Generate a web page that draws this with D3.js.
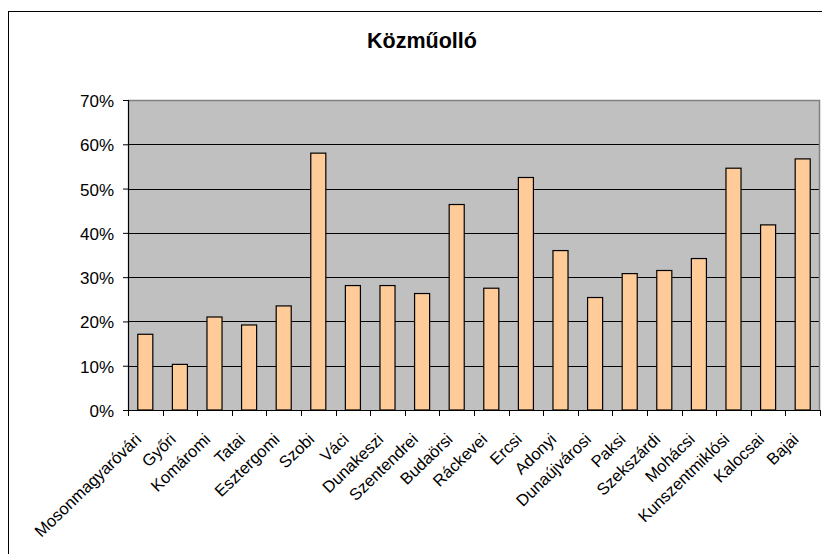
<!DOCTYPE html>
<html>
<head>
<meta charset="utf-8">
<script src="https://cdn.jsdelivr.net/npm/d3@7"></script>
<style>
  html, body { margin: 0; padding: 0; background: #fff; }
  svg { display: block; font-family: "Liberation Sans", Arial, sans-serif; }
</style>
</head>
<body>
<svg id="chart" width="822" height="554"></svg>
<script>
const title = "Közműolló";
const categories = ["Mosonmagyaróvári","Győri","Komáromi","Tatai","Esztergomi","Szobi","Váci","Dunakeszi","Szentendrei","Budaörsi","Ráckevei","Ercsi","Adonyi","Dunaújvárosi","Paksi","Szekszárdi","Mohácsi","Kunszentmiklósi","Kalocsai","Bajai"];
const values = [0.171, 0.103, 0.210, 0.192, 0.235, 0.580, 0.281, 0.281, 0.263, 0.464, 0.275, 0.525, 0.360, 0.254, 0.308, 0.315, 0.342, 0.546, 0.418, 0.567];
const yTicks = [0, 0.1, 0.2, 0.3, 0.4, 0.5, 0.6, 0.7];

const svg = d3.select("#chart");
const plot = { left: 128, right: 820, top: 100, bottom: 410 };

// outer chart border (only left & top fall inside the window)
svg.append("rect")
  .attr("x", 8.5).attr("y", 11.5)
  .attr("width", 900).attr("height", 700)
  .attr("fill", "#fff").attr("stroke", "#000").attr("stroke-width", 1);

// title
svg.append("text")
  .attr("x", 422).attr("y", 48)
  .attr("text-anchor", "middle")
  .attr("font-size", 21.5).attr("font-weight", "bold")
  .attr("fill", "#000")
  .text(title);

const x = d3.scaleBand().domain(categories).range([plot.left, plot.right]).padding(0);
const y = d3.scaleLinear().domain([0, 0.7]).range([plot.bottom, plot.top]);

// plot area background
svg.append("rect")
  .attr("x", plot.left).attr("y", plot.top)
  .attr("width", plot.right - plot.left).attr("height", plot.bottom - plot.top)
  .attr("fill", "#C0C0C0");

// gridlines
svg.append("g").selectAll("line")
  .data(yTicks.filter(t => t > 0 && t < 0.7))
  .join("line")
  .attr("x1", plot.left).attr("x2", plot.right)
  .attr("y1", d => Math.round(y(d)) + 0.5).attr("y2", d => Math.round(y(d)) + 0.5)
  .attr("stroke", "#000").attr("stroke-width", 1);

// plot border top & right (gray)
svg.append("path")
  .attr("d", `M${plot.left},${plot.top + 0.5}H${plot.right - 0.5}V${plot.bottom}`)
  .attr("fill", "none").attr("stroke", "#808080").attr("stroke-width", 1.5);

// bars
const barW = x.bandwidth() / 2.3;
svg.append("g").selectAll("rect")
  .data(categories)
  .join("rect")
  .attr("x", (d) => x(d) + (x.bandwidth() - barW) / 2)
  .attr("y", (d, i) => y(values[i]))
  .attr("width", barW)
  .attr("height", (d, i) => y(0) - y(values[i]))
  .attr("fill", "#FFCC99")
  .attr("stroke", "#000").attr("stroke-width", 1.2);

// y axis
const yAxis = d3.axisLeft(y).tickValues(yTicks).tickFormat(d3.format(".0%")).tickSize(5).tickPadding(9);
const gy = svg.append("g").attr("transform", `translate(${plot.left},0)`).call(yAxis);
gy.select(".domain").attr("stroke", "#000").attr("stroke-width", 1.2);
gy.selectAll(".tick line").attr("stroke", "#000");
gy.selectAll(".tick text").attr("font-size", 17).attr("fill", "#000").attr("dy", "0.38em")
  .attr("font-family", "'Liberation Sans', Arial, sans-serif");

// x axis: ticks between categories, labels rotated
const gx = svg.append("g").attr("transform", `translate(0,${plot.bottom})`);
gx.append("line").attr("x1", plot.left).attr("x2", plot.right)
  .attr("y1", 0.5).attr("y2", 0.5).attr("stroke", "#000").attr("stroke-width", 1.2);
const boundaries = categories.map(c => x(c)).concat([plot.right]);
gx.selectAll("line.tk").data(boundaries).join("line").attr("class", "tk")
  .attr("x1", d => Math.round(d) + 0.5).attr("x2", d => Math.round(d) + 0.5)
  .attr("y1", 0).attr("y2", 6).attr("stroke", "#000");
gx.selectAll("text").data(categories).join("text")
  .attr("transform", d => `translate(${x(d) + x.bandwidth() / 2 - 3},${30.5}) rotate(-44)`)
  .attr("text-anchor", "end")
  .attr("font-size", 16.5).attr("fill", "#000")
  .text(d => d);
</script>
</body>
</html>
